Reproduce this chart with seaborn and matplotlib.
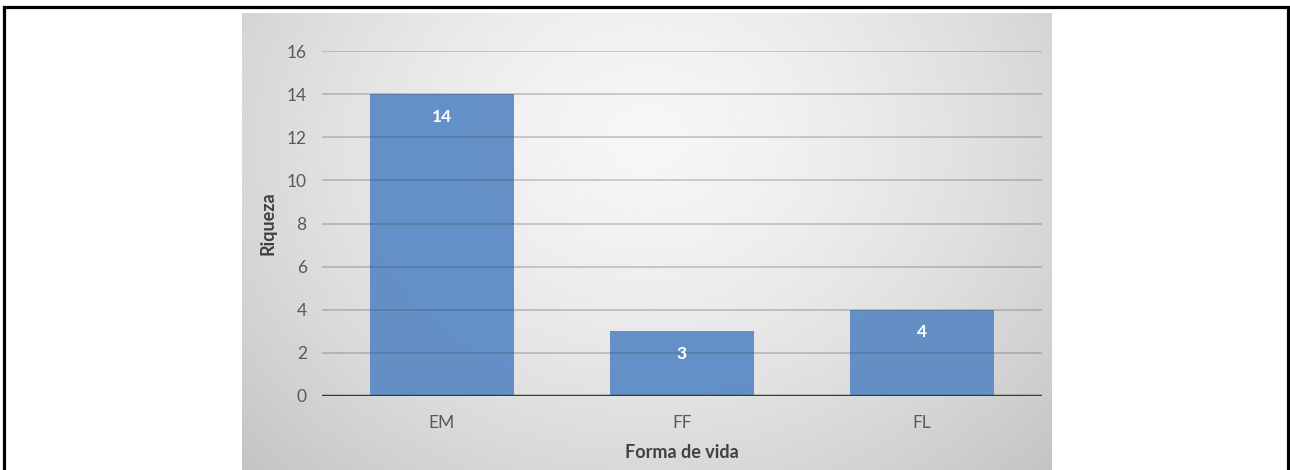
import numpy as np
import pandas as pd
import matplotlib.pyplot as plt
import seaborn as sns
from matplotlib.patches import Rectangle

# dados do gráfico
formas = ['EM', 'FF', 'FL']
riqueza = [14, 3, 4]
y_ticks = [0, 2, 4, 6, 8, 10, 12, 14, 16]

df = pd.DataFrame({'Forma de vida': formas, 'Riqueza': riqueza})

sns.set_theme(style='white')
plt.rcParams['font.family'] = ['Lato', 'DejaVu Sans']

W, H = 1290, 470
fig = plt.figure(figsize=(W / 100, H / 100), dpi=100)
fig.patch.set_facecolor('white')

# moldura preta externa
fig.patches.append(Rectangle((4 / W, -0.05), (1288 - 4) / W, 1.05 - 7 / H,
                             transform=fig.transFigure, fill=False,
                             edgecolor='black', linewidth=2.3, zorder=10))

# fundo com degradê radial (estilo Excel)
bg = fig.add_axes([242 / W, 0, (1052 - 242) / W, (470 - 13) / H], zorder=0)
gx, gy = np.meshgrid(np.linspace(-1, 1, 400), np.linspace(-1, 1, 300))
r = np.sqrt(((gx) / 1.0) ** 2 + ((gy + 0.45) / 1.5) ** 2)
shade = 0.965 - 0.2 * np.clip(r, 0, 1.4) ** 1.5 / 1.4 ** 1.5
bg.imshow(shade, cmap='gray', vmin=0, vmax=1, aspect='auto',
          extent=[0, 1, 0, 1], origin='upper', interpolation='bilinear')
bg.set_axis_off()

# eixo principal
ax = fig.add_axes([322 / W, 1 - 396 / H, (1042 - 322) / W, (396 - 51) / H], zorder=1)
ax.patch.set_alpha(0)
sns.barplot(data=df, x='Forma de vida', y='Riqueza', color='#5f8dc5',
            saturation=1, width=0.6, linewidth=0, ax=ax, zorder=2)
for bar in ax.patches:
    bar.set_alpha(0.97)
    bar.set_edgecolor('none')

ax.set_ylim(0, 16)
ax.set_yticks(y_ticks)
ax.set_xlim(-0.5, 2.5)
for t in y_ticks[1:]:
    ax.axhline(t, color='#404040', alpha=0.28, linewidth=1.2, zorder=3)
ax.axhline(0, color='#3a3a3a', linewidth=2.5, zorder=4)

for s in ax.spines.values():
    s.set_visible(False)
ax.tick_params(axis='both', length=0, labelsize=12.5, colors='#595959')
ax.tick_params(axis='y', pad=11)
ax.tick_params(axis='x', pad=14)

ax.set_xlabel('Forma de vida', fontsize=13, fontweight='bold', color='#404040', labelpad=9)
ax.set_ylabel('Riqueza', fontsize=13, fontweight='bold', color='#404040', labelpad=7)

# rótulos de valor
for i, v in enumerate(riqueza):
    ax.text(i, v - 1.05, str(v), ha='center', va='center', color='white',
            fontsize=12.5, fontweight='bold', zorder=5)

fig.savefig('out.png', dpi=100)
